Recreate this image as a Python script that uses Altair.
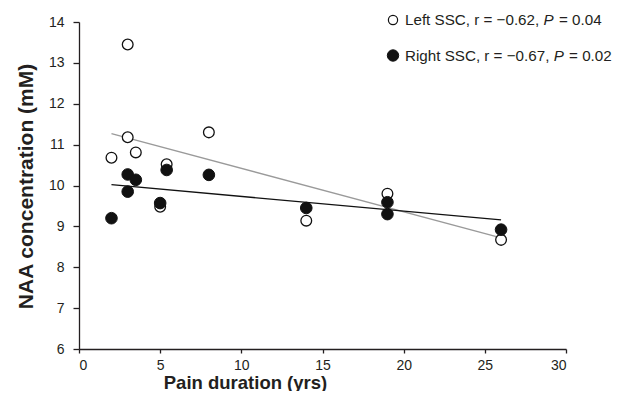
import altair as alt
import pandas as pd

# ---- data ----
left_x = [2, 3, 3, 3.5, 5, 5.4, 8, 14, 19, 26]
left_y = [10.68, 13.45, 11.18, 10.81, 9.48, 10.52, 11.3, 9.14, 9.8, 8.67]
right_x = [2, 3, 3, 3.5, 5, 5.4, 8, 14, 19, 19, 26]
right_y = [9.2, 10.27, 9.85, 10.14, 9.57, 10.38, 10.26, 9.45, 9.59, 9.3, 8.92]

fit_left_x = [2, 26]
fit_left_y = [11.27, 8.72]
fit_right_x = [2, 26]
fit_right_y = [10.02, 9.16]

x_ticks = [0, 5, 10, 15, 20, 25, 30]
y_ticks = [6, 7, 8, 9, 10, 11, 12, 13, 14]

legend_pre = ["Left SSC, r = \u22120.62, ", "Right SSC, r = \u22120.67, "]
legend_p = ["P", "P"]
legend_post = ["= 0.04", "= 0.02"]

# ---- layout ----
W, H = 487, 327
FONT = "Liberation Sans"
TXT = "#231f20"
FS_LEG = 15.2

# Arial/Liberation Sans advance widths (em) for legend placement
_w = {" ": .278, ",": .278, ".": .278, "=": .584,
      "\u2212": .584, "r": .333, "L": .556, "e": .556, "f": .278, "t": .278,
      "S": .667, "C": .722, "R": .722, "i": .222, "g": .556, "h": .556,
      "P": .667}
for d in "0123456789":
    _w[d] = .556


def tw(s, fs):
    return sum(_w.get(c, .556) for c in s) * fs


xs = alt.Scale(domain=[0, 30], nice=False, zero=False)
ys = alt.Scale(domain=[6, 14], nice=False, zero=False)

ax_x = alt.Axis(values=x_ticks, title="Pain duration (yrs)", grid=False,
                tickSize=4, labelPadding=5, labelFontSize=14, labelColor=TXT,
                labelFont=FONT, titleFont=FONT, titleFontSize=18.5,
                titleFontWeight="bold", titleColor=TXT, titleX=166,
                titleY=39, titleBaseline="alphabetic", titleAlign="center",
                domainColor=TXT, tickColor=TXT, domainWidth=1.3, tickWidth=1.3)
ax_y = alt.Axis(values=y_ticks, title="NAA concentration (mM)", grid=False,
                tickSize=6, labelPadding=9, labelFontSize=14, labelColor=TXT,
                labelFont=FONT, titleFont=FONT, titleFontSize=21,
                titleFontWeight="bold", titleColor=TXT, titleAngle=270,
                titleX=-47, titleY=164, titleBaseline="alphabetic",
                titleAlign="center", domainColor=TXT, tickColor=TXT,
                domainWidth=1.3, tickWidth=1.3)

X = alt.X("x:Q", scale=xs, axis=ax_x)
Y = alt.Y("y:Q", scale=ys, axis=ax_y)

fitL = alt.Chart(pd.DataFrame({"x": fit_left_x, "y": fit_left_y})).mark_line(
    color="#9a9a9a", strokeWidth=1.3).encode(x=X, y=Y)
fitR = alt.Chart(pd.DataFrame({"x": fit_right_x, "y": fit_right_y})).mark_line(
    color="#111111", strokeWidth=1.3).encode(x=X, y=Y)

ptsL = alt.Chart(pd.DataFrame({"x": left_x, "y": left_y})).mark_point(
    shape="circle", filled=True, fill="white", stroke="#111111",
    strokeWidth=1.3, size=115, opacity=1).encode(x=X, y=Y)
ptsR = alt.Chart(pd.DataFrame({"x": right_x, "y": right_y})).mark_point(
    shape="circle", filled=True, fill="#111111", stroke="#111111",
    strokeWidth=1, size=135, opacity=1).encode(x=X, y=Y)

# ---- manual legend (pixel layout) ----
leg_x0 = 314
leg_tx = 326
leg_y = [-2, 33.5]
dummy = pd.DataFrame({"a": [0]})
legend_layers = []
markers = [
    dict(fill="white", stroke="#111111", strokeWidth=1.2, size=85),
    dict(fill="#111111", stroke="#111111", strokeWidth=1, size=130),
]
for i in range(2):
    legend_layers.append(
        alt.Chart(dummy).mark_point(shape="circle", filled=True, opacity=1,
                                    **markers[i])
        .encode(x=alt.value(leg_x0), y=alt.value(leg_y[i])))
    x1 = leg_tx
    x2 = x1 + tw(legend_pre[i], FS_LEG)
    x3 = x2 + tw(legend_p[i] + " ", FS_LEG) + 1
    for txt, xp, style in [(legend_pre[i], x1, "normal"),
                           (legend_p[i], x2, "italic"),
                           (legend_post[i], x3, "normal")]:
        legend_layers.append(
            alt.Chart(dummy).mark_text(text=txt, align="left",
                                       baseline="middle", font=FONT,
                                       fontSize=FS_LEG, fontStyle=style,
                                       color=TXT)
            .encode(x=alt.value(xp), y=alt.value(leg_y[i])))

chart = alt.layer(fitL, fitR, ptsL, ptsR, *legend_layers).properties(
    width=W, height=H,
    autosize=alt.AutoSizeParams(type="none"),
    padding={"left": 71, "top": 14, "right": 50, "bottom": 42},
    background="white",
).configure_view(stroke=None)

chart.save("out.html", embed_options={"renderer": "svg", "actions": False})
